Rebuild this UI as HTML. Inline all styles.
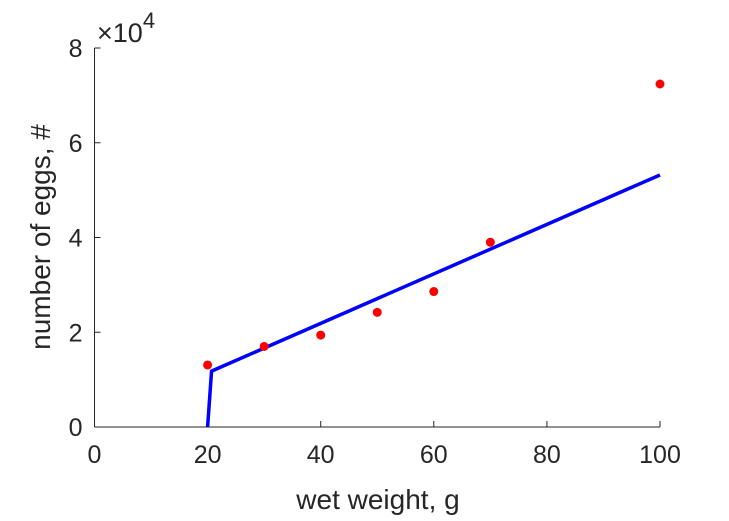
<!DOCTYPE html>
<html><head><meta charset="utf-8"><style>
body{margin:0;background:#fff}
svg{display:block;font-family:"Liberation Sans",sans-serif}
</style></head><body>
<svg id="chart" width="729" height="521">
<g id="axes"></g>
<g id="marks"></g>
<text x="97" y="42" font-size="27" fill="#262626">×10<tspan dy="-14" font-size="22">4</tspan></text>
<text x="378" y="509" font-size="28" fill="#262626" text-anchor="middle">wet weight, g</text>
<text transform="translate(50,237) rotate(-90)" font-size="28" fill="#262626" text-anchor="middle">number of eggs, #</text>
</svg>
<script>
const xTicks=[0,20,40,60,80,100];
const yTicks=[0,2,4,6,8];
const dataX=[20,30,40,50,60,70,100];
const dataY=[13100,17000,19400,24200,28600,39000,72400];
const fitX=[20.0,20.7,100];
const fitY=[0,11800,53200];
const X0=94.5,X1=660,Y0=427,Y1=48;
const sx=v=>X0+(v/100)*(X1-X0);
const sy=v=>Y0-(v/80000)*(Y0-Y1);
const NS="http://www.w3.org/2000/svg";
const ax=document.getElementById('axes'),mk=document.getElementById('marks');
function el(t,a,p){const e=document.createElementNS(NS,t);for(const k in a)e.setAttribute(k,a[k]);p.appendChild(e);return e;}
const xl=el('line',{x1:X0,y1:Y0,x2:X1,y2:Y0,stroke:'#262626','stroke-width':1},ax);


const yl=el('line',{x1:X0,y1:Y0,x2:X0,y2:Y1,stroke:'#262626','stroke-width':1},ax);


xTicks.forEach(v=>{const x=sx(v);
el('line',{x1:x,y1:Y0,x2:x,y2:Y0-6,stroke:'#262626'},ax);
const t=el('text',{x:x,y:Y0+36,'font-size':25,fill:'#262626','text-anchor':'middle'},ax);t.textContent=v;

});
yTicks.forEach(v=>{const y=sy(v*10000);
el('line',{x1:X0,y1:y,x2:X0+6,y2:y,stroke:'#262626'},ax);
const t=el('text',{x:X0-12,y:y+9,'font-size':25,fill:'#262626','text-anchor':'end'},ax);t.textContent=v;

});
const pl=el('polyline',{points:fitX.map((v,i)=>sx(v)+','+sy(fitY[i])).join(' '),fill:'none',stroke:'#0000ff','stroke-width':3.5},mk);


dataX.forEach((v,i)=>{const c=el('circle',{cx:sx(v),cy:sy(dataY[i]),r:4.5,fill:'#ff0000'},mk);

});
</script>
</body></html>
